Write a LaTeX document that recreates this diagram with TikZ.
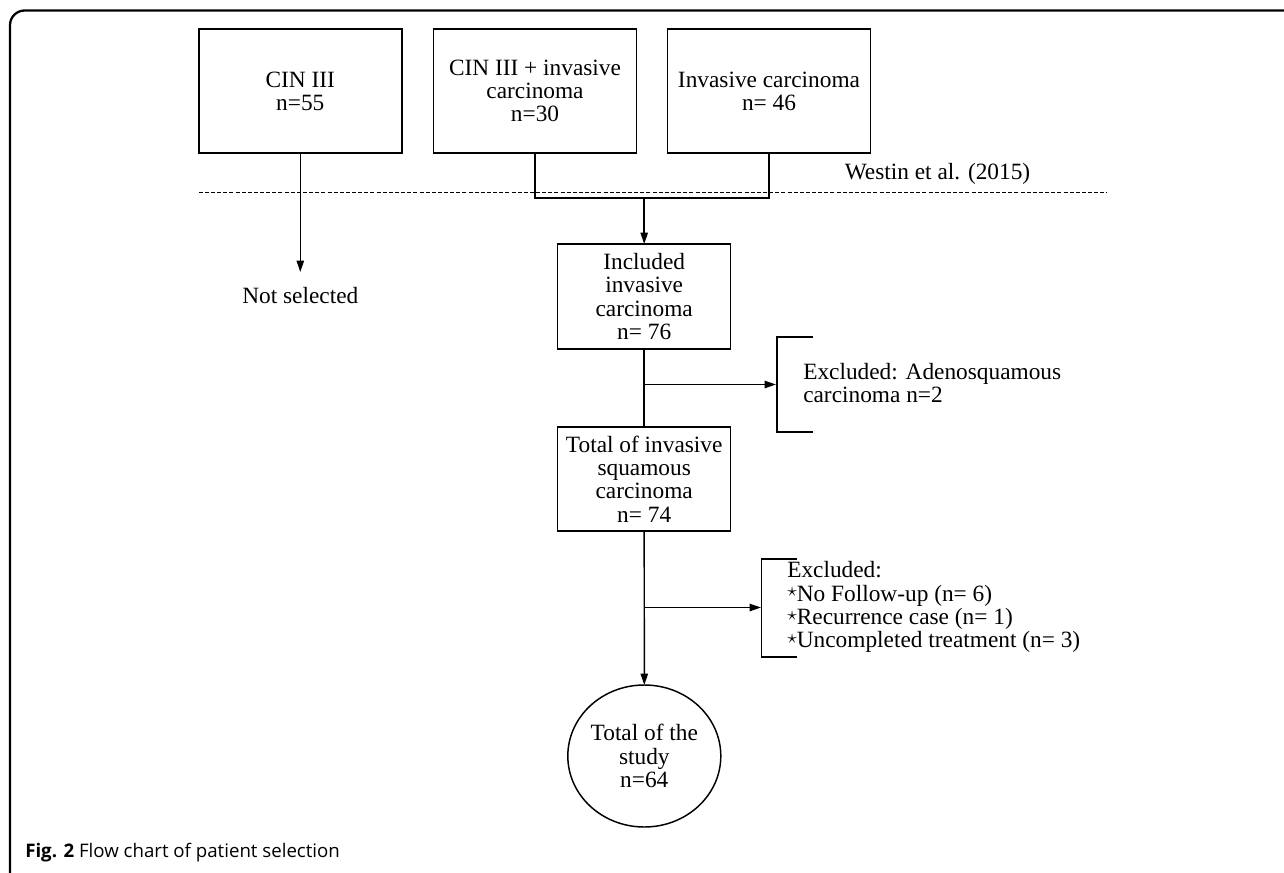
\documentclass[tikz,border=0pt]{standalone}
\usepackage{fontspec}
\setmainfont{Liberation Serif}
\newfontfamily\capfont{Open Sans}
\usetikzlibrary{arrows.meta,shapes.geometric}
\tikzset{
  box/.style={draw, line width=1.1pt, rectangle, align=center, inner sep=0pt, outer sep=0pt},
  plain/.style={align=center, inner sep=0pt},
  conn/.style={line width=1.1pt},
  arr/.style={line width=1.1pt, -{Triangle[length=8.5pt,width=5.5pt]}},
  txt/.style={font=\fontsize{17.5}{17.4}\selectfont}
}
\newcommand{\stm}{\raisebox{0.18em}{\scalebox{0.85}{$\star$}}}
\begin{document}
\begin{tikzpicture}[x=0.75pt,y=-0.75pt, every node/.style={txt}]
\clip (0,0) rectangle (1284,873);
\fill[white] (0,0) rectangle (1284,873);
% outer frame
\draw[line width=1.7pt, rounded corners=11] (10,895) -- (10,10.5) -- (1300,10.5);
% top boxes
\node[box, minimum width=152.3pt, minimum height=93pt] (b1) at (300.3,91) {CIN III\\n=55};
\node[box, minimum width=152.3pt, minimum height=93pt] (b2) at (535,91) {CIN III + invasive\\carcinoma\\n=30};
\node[box, minimum width=152.3pt, minimum height=93pt] (b3) at (769,91) {Invasive carcinoma\\n= 46};
% dashed line and label
\coordinate (dl) at (198.7,192.5);
\coordinate (dr) at (1106.7,192.5);
\draw[line width=0.8pt, dash pattern=on 3pt off 1.6pt] (dl) -- (dr);
\node[plain] (west) at (937.5,174) {Westin et al. (2015)};
% not selected
\node[plain] (ns) at (300.3,296) {Not selected};
\coordinate (nstop) at (300.3,272);
\draw[arr] (b1.south) -- (nstop);
% join
\node[box, minimum width=129.7pt, minimum height=78.75pt] (inc) at (644.2,296.5) {Included\\invasive\\carcinoma\\n= 76};
\coordinate (j) at (644.2,198);
\draw[conn] (b2.south) |- (j) -| (b3.south);
\draw[arr] (j) -- (inc.north);
% total box
\node[box, minimum width=129.7pt, minimum height=78pt] (tot) at (644.2,479) {Total of invasive\\squamous\\carcinoma\\n= 74};
\draw[conn] (inc.south) -- (tot.north);
% excluded 1
\coordinate (e1) at (776,384.5);
\draw[arr] (inc.south |- e1) -- (e1);
\draw[conn] (813,337) -- (777,337) -- (777,432) -- (813,432);
\node[plain, anchor=west, align=left] (ex1) at (803,383) {Excluded: Adenosquamous\\carcinoma n=2};
% circle
\node[draw, ellipse, line width=1.1pt, minimum width=114.75pt, minimum height=106.5pt, inner sep=0pt, outer sep=0pt, align=center] (circ) at (644.3,756) {Total of the\\study\\n=64};
\draw[arr] (tot.south) -- (circ.north);
% excluded 2
\coordinate (e2) at (761,607.5);
\draw[arr] (tot.south |- e2) -- (e2);
\draw[conn] (797,559) -- (761.7,559) -- (761.7,657) -- (797,657);
\node[plain, anchor=west, align=left] (ex2) at (787,607) {Excluded:\\\stm No Follow-up (n= 6)\\\stm Recurrence case (n= 1)\\\stm Uncompleted treatment (n= 3)};
% caption
\node[plain, anchor=west, font=\capfont\fontsize{14}{16}\selectfont] (cap) at (25,853) {\textbf{Fig. 2} Flow chart of patient selection};
\end{tikzpicture}
\end{document}
